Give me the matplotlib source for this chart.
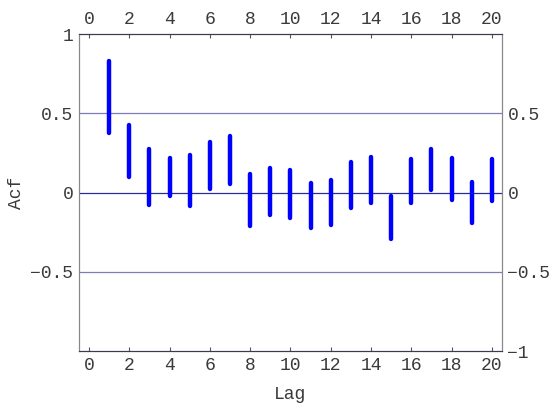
import matplotlib
matplotlib.use('Agg')
import matplotlib.pyplot as plt

# confidence-band style bars of the autocorrelation, one per lag
lags = list(range(1, 21))
upper = [0.83, 0.425, 0.277, 0.218, 0.237, 0.317, 0.355, 0.117, 0.153, 0.14,
         0.061, 0.077, 0.191, 0.222, -0.024, 0.214, 0.273, 0.22, 0.069, 0.21]
lower = [0.376, 0.097, -0.078, -0.025, -0.082, 0.023, 0.055, -0.212, -0.141, -0.162,
         -0.225, -0.202, -0.095, -0.067, -0.292, -0.065, 0.013, -0.046, -0.193, -0.054]

xticks = list(range(0, 21, 2))
left_ticks = [-0.5, 0, 0.5, 1]
right_ticks = [-1, -0.5, 0, 0.5]
ref_lines = [0.5, 0, -0.5]

plt.rcParams['font.family'] = ['Liberation Mono', 'DejaVu Sans Mono']

fig = plt.figure(figsize=(5.54, 4.15), dpi=100)
ax = fig.add_axes([0.1426, 0.1542, 0.7634, 0.7638])

for r in ref_lines:
    col = '#2a2a99' if r == 0 else '#7c7cbb'
    ax.axhline(r, color=col, lw=0.9, zorder=1)

ax.vlines(lags, lower, upper, color='#0000ff', lw=3.2, capstyle='round', zorder=3)

ax.set_xlim(-0.5, 20.5)
ax.set_ylim(-1, 1)

ax.set_xticks(xticks)
ax.set_xticklabels([str(t) for t in xticks])
ax.set_yticks(left_ticks)
ax.set_yticklabels(['\u22120.5', '0', '0.5', '1'])
ax.tick_params(axis='x', which='both', direction='in', length=3, width=0.8,
               color='#555555', top=True, labeltop=True, labelsize=13,
               labelcolor='#3a3a3a', pad=4)
ax.tick_params(axis='y', direction='in', length=0, labelsize=13,
               labelcolor='#3a3a3a', pad=4)

ax2 = ax.twinx()
ax2.set_ylim(-1, 1)
ax2.set_yticks(right_ticks)
ax2.set_yticklabels(['\u22121', '\u22120.5', '0', '0.5'])
ax2.tick_params(axis='y', direction='in', length=0, labelsize=13,
                labelcolor='#3a3a3a', pad=4)

for a in (ax, ax2):
    a.spines['top'].set_color('#3a3a55')
    a.spines['bottom'].set_color('#3a3a55')
    a.spines['left'].set_color('#888888')
    a.spines['right'].set_color('#888888')

ax.set_xlabel('Lag', fontsize=13, color='#3a3a3a', labelpad=9)
ax.set_ylabel('Acf', fontsize=13, color='#3a3a3a', labelpad=4)

fig.savefig('out.png', dpi=100)
